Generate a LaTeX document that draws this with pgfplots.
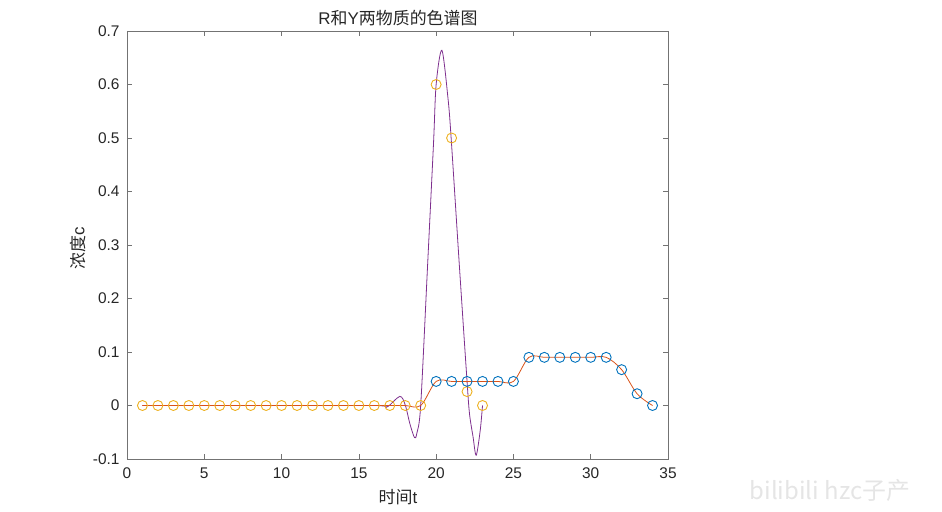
\documentclass[border=0pt]{standalone}
\usepackage{pgfplots}
\pgfplotsset{compat=1.18}
\usepackage{fontspec}
\setmainfont{Liberation Sans}
\newfontfamily\cjk{Noto Sans CJK SC}

\definecolor{mblue}{rgb}{0,0.447,0.741}
\definecolor{morange}{rgb}{0.85,0.325,0.098}
\definecolor{myellow}{rgb}{0.929,0.694,0.125}
\definecolor{mpurple}{rgb}{0.494,0.184,0.556}
\definecolor{maxis}{rgb}{0.15,0.15,0.15}

\begin{document}
\begin{tikzpicture}
\useasboundingbox (0,0) rectangle (942bp,512bp);
\begin{axis}[
    at={(127bp,53bp)}, anchor=south west,
    scale only axis,
    width=541bp, height=428bp,
    xmin=0, xmax=35, ymin=-0.1, ymax=0.7,
    xtick={0,5,10,15,20,25,30,35},
    ytick={-0.1,0,0.1,0.2,0.3,0.4,0.5,0.6,0.7},
    yticklabel style={/pgf/number format/fixed, /pgf/number format/precision=1, xshift=-4bp},
    xticklabel style={yshift=-5bp},
    /pgf/number format/assume math mode=true,
    tick align=inside,
    xtick pos=both, ytick pos=both,
    major tick length=5bp,
    axis line style={black!55, line width=0.7bp},
    tick style={black!55, line width=0.7bp},
    ticklabel style={font=\fontsize{15.5}{18}\selectfont, text=maxis},
    clip=false,
]
% purple curve (R spline)
\addplot[mpurple, line width=0.8bp, smooth, tension=0.5] coordinates {
(1,0) (8,0) (16,0) (16.8,-0.003) (17.65,0.017) (18,0.001) (18.3,-0.034)
(18.6,-0.060) (18.75,-0.052) (19.0,0.0) (19.44,0.258) (19.83,0.49)
(20.0,0.60) (20.37,0.664) (20.76,0.576) (20.97,0.50) (21.51,0.258)
(22.0,0.045) (22.16,-0.016) (22.39,-0.059) (22.59,-0.093) (22.85,-0.047) (23.0,0)
};
% orange curve (Y spline)
\addplot[morange, line width=0.8bp, smooth, tension=0.55] coordinates {
(1,0) (2,0) (3,0) (4,0) (5,0) (6,0) (7,0) (8,0) (9,0) (10,0)
(11,0) (12,0) (13,0) (14,0) (15,0) (16,0) (17,0) (18,0) (19,0)
(20,0.045) (21,0.045) (22,0.045) (23,0.045) (24,0.045) (25,0.045)
(26,0.090) (27,0.090) (28,0.090) (29,0.090) (30,0.090) (31,0.090)
(32,0.067) (33,0.022) (34,0)
};
% yellow circles
\addplot[only marks, mark=o, mark size=5bp, myellow, mark options={line width=0.9bp}] coordinates {
(1,0) (2,0) (3,0) (4,0) (5,0) (6,0) (7,0) (8,0) (9,0) (10,0)
(11,0) (12,0) (13,0) (14,0) (15,0) (16,0) (17,0) (18,0) (19,0)
(20,0.60) (21,0.50) (22,0.026) (23,0)
};
% blue circles
\addplot[only marks, mark=o, mark size=5bp, mblue, mark options={line width=0.9bp}] coordinates {
(20,0.045) (21,0.045) (22,0.045) (23,0.045) (24,0.045) (25,0.045)
(26,0.090) (27,0.090) (28,0.090) (29,0.090) (30,0.090) (31,0.090)
(32,0.067) (33,0.022) (34,0)
};
\end{axis}
\node[text=maxis, font=\fontsize{17}{20}\selectfont] at (398bp,494bp) {R{\cjk 和}Y{\cjk 两物质的色谱图}};
\node[text=maxis, font=\fontsize{17}{20}\selectfont] at (398bp,15bp) {{\cjk 时间}t};
\node[text=maxis, font=\fontsize{17}{20}\selectfont, rotate=90] at (78bp,264bp) {{\cjk 浓度}c};
\node[text=black!10, font=\fontsize{24}{26}\selectfont\cjk] at (830bp,22bp) {bilibili hzc子产};
\end{tikzpicture}
\end{document}
